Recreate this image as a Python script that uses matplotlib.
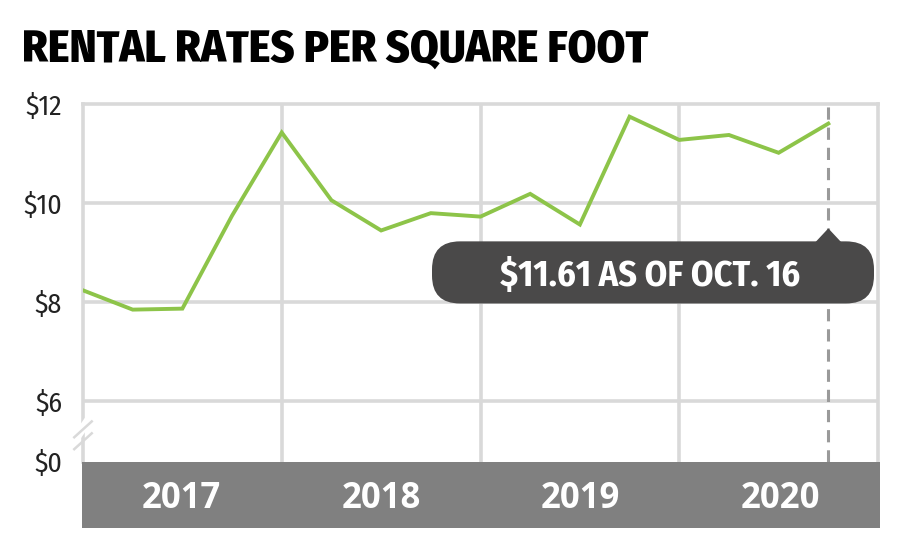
import matplotlib.pyplot as plt
from matplotlib.patches import FancyBboxPatch, Polygon

# quarterly rent per square foot
quarters = ['2017 Q1', '2017 Q2', '2017 Q3', '2017 Q4',
            '2018 Q1', '2018 Q2', '2018 Q3', '2018 Q4',
            '2019 Q1', '2019 Q2', '2019 Q3', '2019 Q4',
            '2020 Q1', '2020 Q2', '2020 Q3', '2020 Q4']
rent = [8.24, 7.85, 7.87, 9.75,
        11.43, 10.06, 9.45, 9.80,
        9.73, 10.19, 9.57, 11.75,
        11.28, 11.38, 11.02, 11.61]
years = [2017, 2018, 2019, 2020]
y_ticks = [6, 8, 10, 12]
callout = '$11.61 AS OF OCT. 16'
title = 'RENTAL RATES PER SQUARE FOOT'

x = [int(q[:4]) + (int(q[-1]) - 1) / 4 for q in quarters]

COND = ['Fira Sans Condensed', 'Barlow Semi Condensed', 'DejaVu Sans']
REG = ['Open Sans', 'DejaVu Sans']
GRID = '#d9d9d9'
GREEN = '#8dc449'
DARK = '#4a4949'

W, H = 900, 558
fig = plt.figure(figsize=(W / 100, H / 100), dpi=100)

left, right = 83, 878
top, bottom = 104.3, 461.7
px_per_dollar = 49.6
y_low = 6 - (bottom - 401) / px_per_dollar  # where the $0 line sits after the break

ax = fig.add_axes([left / W, 1 - bottom / H, (right - left) / W, (bottom - top) / H])
ax.set_xlim(2017, 2021)
ax.set_ylim(y_low, 12)

for s in ['left', 'right', 'top']:
    ax.spines[s].set_color(GRID)
    ax.spines[s].set_linewidth(2.6)
ax.spines['bottom'].set_visible(False)

for v in y_ticks[:-1]:
    ax.axhline(v, color=GRID, lw=2.6, zorder=1)
for yr in years[1:]:
    ax.axvline(yr, color=GRID, lw=2.6, zorder=1)

ax.set_xticks([])
ax.set_yticks(y_ticks + [y_low])
ax.set_yticklabels(['$%d' % v for v in y_ticks] + ['$0'],
                   fontsize=20, family=COND, color='#222222')
ax.tick_params(axis='y', length=0, pad=15)
for lab in ax.get_yticklabels():
    lab.set_verticalalignment('center_baseline')

ax.plot(x, rent, color=GREEN, lw=2.8, zorder=3, solid_joinstyle='miter')
ax.plot([x[-1], x[-1]], [y_low, 12], color='#9a9a9a', lw=2.2,
        dashes=(4, 2.6), zorder=4)

# axis break marks on the left edge
bt = ax.get_yaxis_transform()
ax.plot([-0.012, 0.012], [5.18, 5.74], color='white', lw=6, transform=bt,
        clip_on=False, zorder=5, solid_capstyle='butt')
for off in (0.0, 0.24):
    ax.plot([-0.011, 0.011], [5.03 + off, 5.35 + off], color=GRID, lw=1.8,
            transform=bt, clip_on=False, zorder=6)

# callout box
x_per_px = 4 / (right - left)
y_per_px = 1 / px_per_dollar
aspect = y_per_px / x_per_px
bx0 = 2017 + (432 - left) * x_per_px
bx1 = 2017 + (874 - left) * x_per_px
by0 = 12 - (304 - top) * y_per_px
by1 = 12 - (241.7 - top) * y_per_px
box = FancyBboxPatch((bx0, by0), bx1 - bx0, by1 - by0,
                     boxstyle='round,pad=0,rounding_size=%f' % (28 * x_per_px),
                     mutation_aspect=aspect, fc=DARK, ec='none', zorder=7)
ax.add_patch(box)
tri = Polygon([[x[-1] - 14 * x_per_px, by1 - 2 * y_per_px],
               [x[-1], by1 + 13 * y_per_px],
               [x[-1] + 14 * x_per_px, by1 - 2 * y_per_px]],
              closed=True, fc=DARK, ec='none', zorder=7)
ax.add_patch(tri)
ax.text(2017 + (650 - left) * x_per_px, (by0 + by1) / 2, callout,
        color='white', fontsize=26, fontweight='bold', family=COND,
        ha='center', va='center_baseline', zorder=8)

# year band
band = fig.add_axes([82 / W, 1 - 528 / H, (880 - 82) / W, (528 - bottom) / H])
band.set_facecolor('#808080')
band.set_xlim(2017, 2021)
band.set_ylim(0, 1)
for s in band.spines.values():
    s.set_visible(False)
band.set_xticks([])
band.set_yticks([])
for yr in years:
    band.text(yr + 0.5, 0.43, str(yr), color='white', fontsize=25,
              fontweight='bold', family=REG, ha='center', va='center')

fig.text(22 / W, 1 - 62 / H, title, fontsize=33, fontweight='heavy',
         family=COND, color='black', ha='left', va='baseline')

fig.savefig('out.png', dpi=100)
